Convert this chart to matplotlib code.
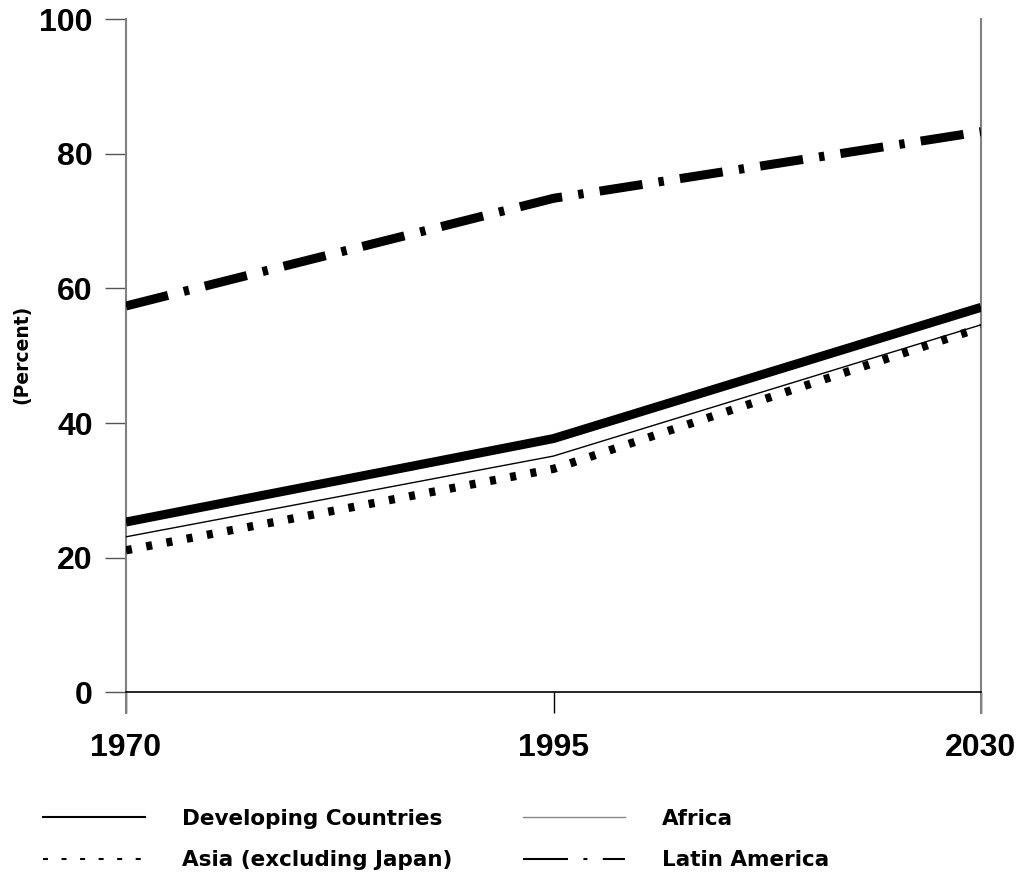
import matplotlib
matplotlib.use("Agg")
import matplotlib.pyplot as plt
from matplotlib.lines import Line2D
from matplotlib import font_manager as fm

# ---- data ----
years = ["1970", "1995", "2030"]
developing = [25.3, 37.7, 57.2]
africa = [23.1, 35.1, 54.6]
asia = [21.1, 33.2, 54.2]
latin_america = [57.4, 73.4, 83.3]
yticks = [0, 20, 40, 60, 80, 100]

W, H = 1024, 882
fig = plt.figure(figsize=(W / 100, H / 100), dpi=100)
ax = fig.add_axes([126 / W, (H - 713) / H, (981 - 126) / W, (713 - 19.3) / H])

x = list(range(len(years)))

ax.plot(x, developing, color="black", lw=6.5, solid_capstyle="butt", zorder=3)
ax.plot(x, asia, color="black", lw=6.0, dashes=(0.72, 1.75), dash_capstyle="butt", zorder=3)
ax.plot(x, africa, color="black", lw=1.0, zorder=4)
ax.plot(x, latin_america, color="black", lw=6.5, dashes=(4.8, 1.8, 0.6, 1.8),
        dash_capstyle="butt", zorder=3)

ax.set_xlim(0, len(years) - 1)
ax.set_ylim(-3.08, 100)

ax.spines["top"].set_visible(False)
ax.spines["bottom"].set_position(("data", 0))
ax.spines["bottom"].set_color("black")
ax.spines["bottom"].set_linewidth(1.2)
for s in ("left", "right"):
    ax.spines[s].set_color("#808080")
    ax.spines[s].set_linewidth(1.5)

# pick the regular-width Liberation Sans Bold (not Narrow)
tick_fp = None
for f in fm.fontManager.ttflist:
    if f.name == "Liberation Sans" and f.weight in (700, "bold") and f.style == "normal":
        tick_fp = fm.FontProperties(fname=f.fname, size=23)
        break
if tick_fp is None:
    tick_fp = fm.FontProperties(family="DejaVu Sans", weight="bold", size=20)

ax.set_xticks(x)
ax.set_xticklabels(years, fontproperties=tick_fp)
ax.set_yticks(yticks)
ax.set_yticklabels([str(v) for v in yticks], fontproperties=tick_fp)
ax.tick_params(axis="x", direction="out", length=15, width=1.0, color="black", pad=14)
ax.tick_params(axis="y", direction="out", length=15, width=1.0, color="#555555", pad=9)

ax.set_ylabel("(Percent)", family="DejaVu Sans", weight="bold", fontsize=13.5)
ax.yaxis.set_label_coords((22 - 126) / 855, (713 - 354) / 693.7)
ax.yaxis.label.set_va("center")

leg_font = dict(family="DejaVu Sans", weight="bold", size=15.5)
h_dev = Line2D([], [], color="black", lw=1.5)
h_asia = Line2D([], [], color="black", lw=1.5, dashes=(2.4, 6.5))
h_afr = Line2D([], [], color="#888888", lw=1.0)
h_la = Line2D([], [], color="black", lw=1.5, dashes=(21.6, 7.4, 1.9, 7.4))

common = dict(loc="upper left", frameon=False, prop=leg_font, handlelength=4.75,
              handletextpad=1.7, labelspacing=0.98, borderpad=0, borderaxespad=0)
fig.legend(handles=[h_dev, h_asia], labels=["Developing Countries", "Asia (excluding Japan)"],
           bbox_to_anchor=(43 / W, (H - 809) / H), **common)
fig.legend(handles=[h_afr, h_la], labels=["Africa", "Latin America"],
           bbox_to_anchor=(523 / W, (H - 809) / H), **common)

fig.savefig("out.png", dpi=100)
